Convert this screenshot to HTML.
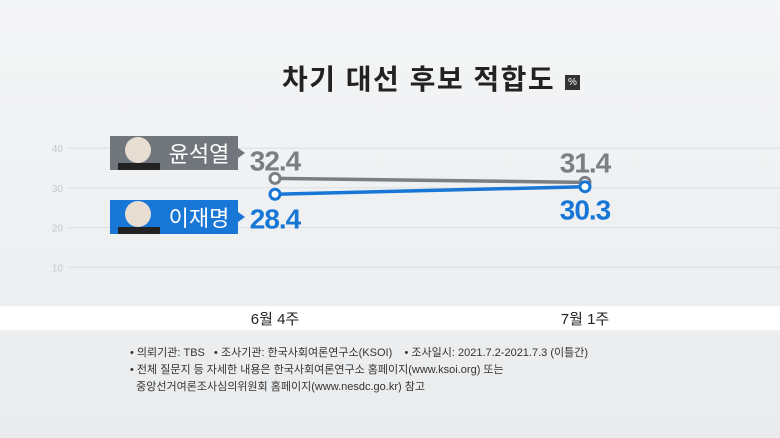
<!DOCTYPE html>
<html><head><meta charset="utf-8">
<style>
body{margin:0;width:780px;height:438px;overflow:hidden;background:linear-gradient(#f4f5f6,#e9ebed);font-family:"Liberation Sans","Noto Sans CJK KR",sans-serif;position:relative}
.t{position:absolute}
</style></head><body>
<div class="t" style="left:282px;top:58px;font-size:28px;font-weight:bold;color:#222;letter-spacing:1.5px">차기 대선 후보 적합도</div>
<div class="t" style="left:565px;top:75px;width:15px;height:15px;background:#333;color:#fff;font-size:10px;text-align:center;line-height:15px">%</div>
<div class="t" style="left:0;top:306px;width:780px;height:24px;background:#fff"></div>
<svg class="t" style="left:0;top:0" width="780" height="438">
<g id="g"></g>
</svg>
<div class="t" style="left:130px;top:345px;font-size:11px;color:#333;line-height:17px">• 의뢰기관: TBS &nbsp;&nbsp;• 조사기관: 한국사회여론연구소(KSOI) &nbsp;&nbsp;&nbsp;• 조사일시: 2021.7.2-2021.7.3 (이틀간)<br>• 전체 질문지 등 자세한 내용은 한국사회여론연구소 홈페이지(www.ksoi.org) 또는<br>&nbsp;&nbsp;중앙선거여론조사심의위원회 홈페이지(www.nesdc.go.kr) 참고</div>
<script>
const categories=["6월 4주","7월 1주"];
const yoon=[32.4,31.4];
const lee=[28.4,30.3];
const yTicks=[10,20,30,40];
const ns="http://www.w3.org/2000/svg",g=document.getElementById('g');
const X=i=>275+i*310, Y=v=>307-v*3.97;
function el(t,a,txt){const e=document.createElementNS(ns,t);for(const k in a)e.setAttribute(k,a[k]);if(txt!=null)e.textContent=txt;g.appendChild(e);return e;}
yTicks.forEach(v=>{
 const l=el('line',{x1:68,x2:780,y1:Y(v),y2:Y(v),stroke:'#dcdee1','stroke-width':1});
 
 
 const t=el('text',{x:63,y:Y(v)+4,'text-anchor':'end','font-size':10,fill:'#c4c7cb'},v);
 
 
});
categories.forEach((c,i)=>{
 const t=el('text',{x:X(i),y:324,'text-anchor':'middle','font-size':15,fill:'#222'},c);
 
 
});
[[yoon,'#7b7f84','yoon'],[lee,'#1877d6','lee']].forEach(([s,col,n])=>{
 const p=el('polyline',{points:s.map((v,i)=>X(i)+','+Y(v)).join(' '),fill:'none',stroke:col,'stroke-width':3.5});
 
 
 s.forEach((v,i)=>{
  const c=el('circle',{cx:X(i),cy:Y(v),r:5,fill:'#fff',stroke:col,'stroke-width':3});
  
  
 });
});
function val(txt,x,y,col,n){const t=el('text',{x:x,y:y,'font-size':28,'font-weight':'bold',fill:col,'text-anchor':'middle','letter-spacing':-1},txt);
 
 }
val(yoon[0].toFixed(1),X(0),Y(yoon[0])-8,'#7b7f84','yoon-value-0');
val(yoon[1].toFixed(1),X(1),Y(yoon[1])-10,'#7b7f84','yoon-value-1');
val(lee[0].toFixed(1),X(0),Y(lee[0])+34,'#1877d6','lee-value-0');
val(lee[1].toFixed(1),X(1),Y(lee[1])+33,'#1877d6','lee-value-1');
function tag(name,y,col,n){
 const r=el('path',{d:`M110 ${y} h128 v12 l7 5 l-7 5 v12 h-128 z`,fill:col});
 
 
 const f=el('circle',{cx:138,cy:y+14,r:13,fill:'#e8ddd2'});
 
 
 el('rect',{x:118,y:y+27,width:42,height:7,fill:'#222'});
 const t=el('text',{x:199,y:y+26,'text-anchor':'middle','font-size':22,fill:'#fff'},name);
 
 
}
tag('윤석열',136,'#71767c','yoon');
tag('이재명',200,'#1877d6','lee');
</script>
</body></html>
